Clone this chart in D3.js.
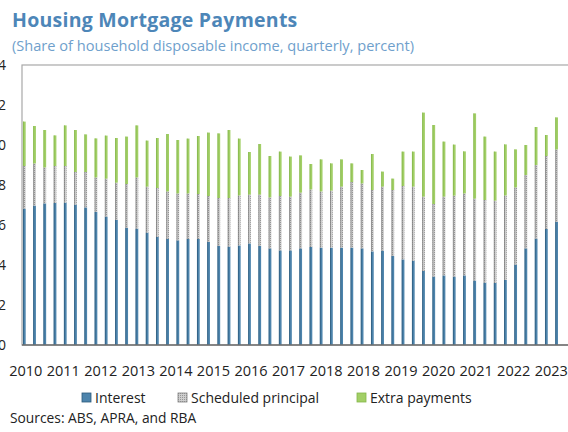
<!DOCTYPE html>
<html>
<head>
<meta charset="utf-8">
<script src="https://cdn.jsdelivr.net/npm/d3@7"></script>
<style>
  body { margin: 0; background: #fff; }
  svg { display: block; font-family: "Open Sans", sans-serif; }
</style>
</head>
<body>
<div id="chart"></div>
<script>
// quarterly values, share of household disposable income (percent), 2010 Q1 onwards
var quarters = d3.range(53).map(function(i){ return (2010 + Math.floor(i / 4)) + "Q" + (i % 4 + 1); });
var interest = [6.82, 6.97, 7.08, 7.10, 7.12, 7.02, 6.88, 6.65, 6.42, 6.25, 5.85, 5.82, 5.62, 5.40,
                5.30, 5.23, 5.30, 5.30, 5.15, 4.95, 4.92, 4.98, 5.08, 4.95, 4.83, 4.73, 4.73, 4.83,
                4.90, 4.87, 4.87, 4.87, 4.87, 4.83, 4.68, 4.72, 4.45, 4.28, 4.22, 3.70, 3.42, 3.48,
                3.42, 3.48, 3.22, 3.12, 3.10, 3.25, 4.02, 4.83, 5.32, 5.80, 6.15];
var principal = [2.13, 2.11, 1.80, 1.85, 1.83, 1.63, 1.77, 1.73, 1.90, 1.87, 2.20, 2.56, 2.30, 2.45,
                 2.38, 2.35, 2.28, 2.25, 2.30, 2.40, 2.43, 2.50, 2.44, 2.57, 2.55, 2.72, 2.69, 2.79,
                 2.88, 2.81, 2.85, 3.05, 3.28, 3.25, 3.07, 3.20, 3.30, 3.67, 3.70, 3.72, 3.63, 3.94,
                 4.05, 4.10, 4.10, 4.13, 4.12, 4.23, 3.86, 3.67, 3.68, 3.65, 3.63];
var extra = [2.22, 1.87, 1.87, 1.53, 2.03, 2.10, 1.88, 1.95, 2.15, 2.23, 2.37, 2.60, 2.30, 2.50,
             2.87, 2.67, 2.74, 2.90, 3.17, 3.23, 3.40, 2.84, 2.13, 2.53, 2.07, 2.22, 2.00, 1.86,
             1.27, 1.60, 1.36, 1.36, 0.93, 0.67, 1.80, 0.75, 0.57, 1.72, 1.75, 4.20, 3.95, 2.75,
             2.55, 2.10, 4.26, 3.17, 2.45, 2.55, 1.90, 1.50, 1.90, 1.05, 1.60];
var yearLabels = ["2010", "2011", "2012", "2013", "2014", "2015", "2016", "2017",
                  "2018", "2018", "2019", "2020", "2021", "2022", "2023"];
var yTicks = [0, 2, 4, 6, 8, 10, 12, 14];
var seriesNames = ["Interest", "Scheduled principal", "Extra payments"];

var width = 568, height = 432;
var margin = {top: 65, left: 22, bottom: 345};

var svg = d3.select("#chart").append("svg")
    .attr("width", width)
    .attr("height", height);

var defs = svg.append("defs");
var pat = defs.append("pattern")
    .attr("id", "dots")
    .attr("width", 2).attr("height", 2)
    .attr("patternUnits", "userSpaceOnUse");
pat.append("rect").attr("width", 2).attr("height", 2).attr("fill", "#cfcfcf");
pat.append("rect").attr("width", 1).attr("height", 1).attr("fill", "#969696");

var colors = ["#4d84ac", "url(#dots)", "#a2cf66"];
var edges = ["#2c5a7c", "#808080", "#84b64a"];

// title
svg.append("text")
    .attr("x", 12).attr("y", 27)
    .attr("font-size", 19.5).attr("font-weight", "bold")
    .attr("letter-spacing", 0.25)
    .attr("fill", "#4d86b8")
    .text("Housing Mortgage Payments");

svg.append("text")
    .attr("x", 12).attr("y", 51)
    .attr("font-size", 14.6)
    .attr("fill", "#6f9fcc")
    .text("(Share of household disposable income, quarterly, percent)");

var y = d3.scaleLinear()
    .domain([0, 14])
    .range([margin.bottom, margin.top]);

var x = d3.scaleBand()
    .domain(quarters)
    .range([margin.left, 559])
    .paddingInner(0.74)
    .paddingOuter(0.1);

var xLab = d3.scaleBand()
    .domain(d3.range(yearLabels.length))
    .range([7, 570]);

// plot frame
svg.append("rect")
    .attr("x", margin.left).attr("y", margin.top)
    .attr("width", 570 - margin.left).attr("height", margin.bottom - margin.top)
    .attr("fill", "none")
    .attr("stroke", "#a8a8a8")
    .attr("stroke-width", 1.2);

// stacked bars
var rows = quarters.map(function(q, i){
    return {q: q, Interest: interest[i], "Scheduled principal": principal[i], "Extra payments": extra[i]};
});
var stacked = d3.stack().keys(seriesNames)(rows);

svg.selectAll("g.layer")
    .data(stacked)
    .enter()
    .append("g")
    .attr("class", "layer")
    .each(function(layer, li){
        var g = d3.select(this);
        g.selectAll("rect.bar")
            .data(layer)
            .enter()
            .append("rect")
            .attr("class", "bar")
            .attr("x", function(d){ return x(d.data.q); })
            .attr("y", function(d){ return y(d[1]); })
            .attr("width", x.bandwidth())
            .attr("height", function(d){ return y(d[0]) - y(d[1]); })
            .attr("fill", colors[li]);
        g.selectAll("line.edge")
            .data(layer)
            .enter()
            .append("line")
            .attr("class", "edge")
            .attr("x1", function(d){ return x(d.data.q) + 0.4; })
            .attr("x2", function(d){ return x(d.data.q) + 0.4; })
            .attr("y1", function(d){ return y(d[1]); })
            .attr("y2", function(d){ return y(d[0]); })
            .attr("stroke", edges[li])
            .attr("stroke-width", 0.8);
    });

// x axis baseline
svg.append("line")
    .attr("x1", margin.left).attr("x2", 570)
    .attr("y1", y(0)).attr("y2", y(0))
    .attr("stroke", "#6e6e6e")
    .attr("stroke-width", 1.5);

// y tick labels (cropped at left edge, as in the source image)
svg.selectAll("text.ytick")
    .data(yTicks)
    .enter()
    .append("text")
    .attr("class", "ytick")
    .attr("x", 6)
    .attr("y", function(d){ return y(d) + 5; })
    .attr("text-anchor", "end")
    .attr("font-size", 14)
    .attr("fill", "#222")
    .text(function(d){ return d; });

// x labels
svg.selectAll("text.xtick")
    .data(yearLabels)
    .enter()
    .append("text")
    .attr("class", "xtick")
    .attr("x", function(d, i){ return xLab(i) + xLab.bandwidth() / 2; })
    .attr("y", 376)
    .attr("text-anchor", "middle")
    .attr("font-size", 14.5)
    .attr("fill", "#222")
    .text(function(d){ return d; });

// legend
var legendX = [82, 178, 357];
var legend = svg.selectAll("g.legend")
    .data(seriesNames)
    .enter()
    .append("g")
    .attr("class", "legend")
    .attr("transform", function(d, i){ return "translate(" + legendX[i] + ",393)"; });

legend.append("rect")
    .attr("width", 9).attr("height", 9)
    .attr("fill", function(d, i){ return colors[i]; })
    .attr("stroke", function(d, i){ return edges[i]; })
    .attr("stroke-width", 0.8);

legend.append("text")
    .attr("x", 13).attr("y", 10)
    .attr("font-size", 14)
    .attr("fill", "#222")
    .text(function(d){ return d; });

svg.append("text")
    .attr("x", 10).attr("y", 423)
    .attr("font-size", 13.8)
    .attr("fill", "#222")
    .text("Sources: ABS, APRA, and RBA");
</script>
</body>
</html>
